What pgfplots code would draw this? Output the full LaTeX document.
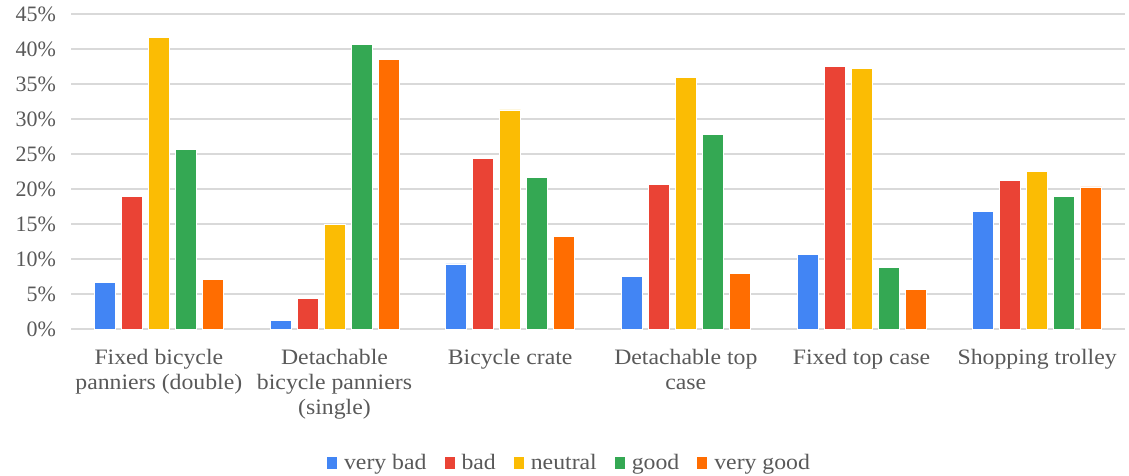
\documentclass[border=0pt]{standalone}
\usepackage{fontspec}
\setmainfont{Liberation Serif}[FakeStretch=1.08]
\usepackage{pgfplots}
\pgfplotsset{compat=1.18}
\definecolor{cvb}{HTML}{4285F4}
\definecolor{cb}{HTML}{EA4335}
\definecolor{cn}{HTML}{FBBC04}
\definecolor{cg}{HTML}{34A853}
\definecolor{cvg}{HTML}{FF6D01}
\definecolor{txt}{HTML}{595959}
\definecolor{grd}{HTML}{D9D9D9}
\begin{document}
\begin{tikzpicture}
\begin{axis}[
  scale only axis,
  width=1054bp, height=315bp,
  ybar=6bp, bar width=21bp,
  xmin=-0.5, xmax=5.5,
  ymin=0, ymax=45,
  xtick={0,1,2,3,4,5},
  xticklabels={{Fixed bicycle\\panniers (double)},{Detachable\\bicycle panniers\\(single)},{Bicycle crate},{Detachable top\\case},{Fixed top case},{Shopping trolley}},
  ytick={0,5,10,15,20,25,30,35,40,45},
  yticklabels={0\%,5\%,10\%,15\%,20\%,25\%,30\%,35\%,40\%,45\%},
  ymajorgrids,
  grid style={draw=grd, line width=1.3bp},
  axis line style={draw=none},
  major tick length=0pt,
  tick label style={font=\fontsize{22bp}{25bp}\selectfont, text=txt},
  xticklabel style={align=center, yshift=-16.5bp},
  yticklabel style={xshift=-11.5bp, font=\addfontfeatures{FakeStretch=1.0}\fontsize{22bp}{25bp}\selectfont},
  legend style={at={(0.473,-0.425)}, anchor=center, draw=none, fill=none,
    legend columns=5, font=\fontsize{22bp}{25bp}\selectfont, text=txt,
    /tikz/every odd column/.append style={column sep=5bp},
    /tikz/every even column/.append style={column sep=16bp}},
  legend image code/.code={\fill[#1,draw=none] (0bp,-6bp) rectangle (10bp,6bp);},
  every axis plot/.append style={draw=white, line width=0.8bp},
]
\addplot[fill=cvb] coordinates {(0,6.6) (1,1.2) (2,9.3) (3,7.5) (4,10.6) (5,16.8)};
\addplot[fill=cb] coordinates {(0,19.0) (1,4.4) (2,24.4) (3,20.7) (4,37.5) (5,21.2)};
\addplot[fill=cn] coordinates {(0,41.6) (1,15.0) (2,31.3) (3,35.9) (4,37.2) (5,22.5)};
\addplot[fill=cg] coordinates {(0,25.6) (1,40.7) (2,21.6) (3,27.8) (4,8.8) (5,19.0)};
\addplot[fill=cvg] coordinates {(0,7.1) (1,38.5) (2,13.2) (3,7.9) (4,5.7) (5,20.3)};
\legend{very bad,bad,neutral,good,very good}
\end{axis}
\pgfresetboundingbox
\path ([shift={(-71bp,-146bp)}]current axis.south west) rectangle ([shift={(4bp,14bp)}]current axis.north east);
\end{tikzpicture}
\end{document}
